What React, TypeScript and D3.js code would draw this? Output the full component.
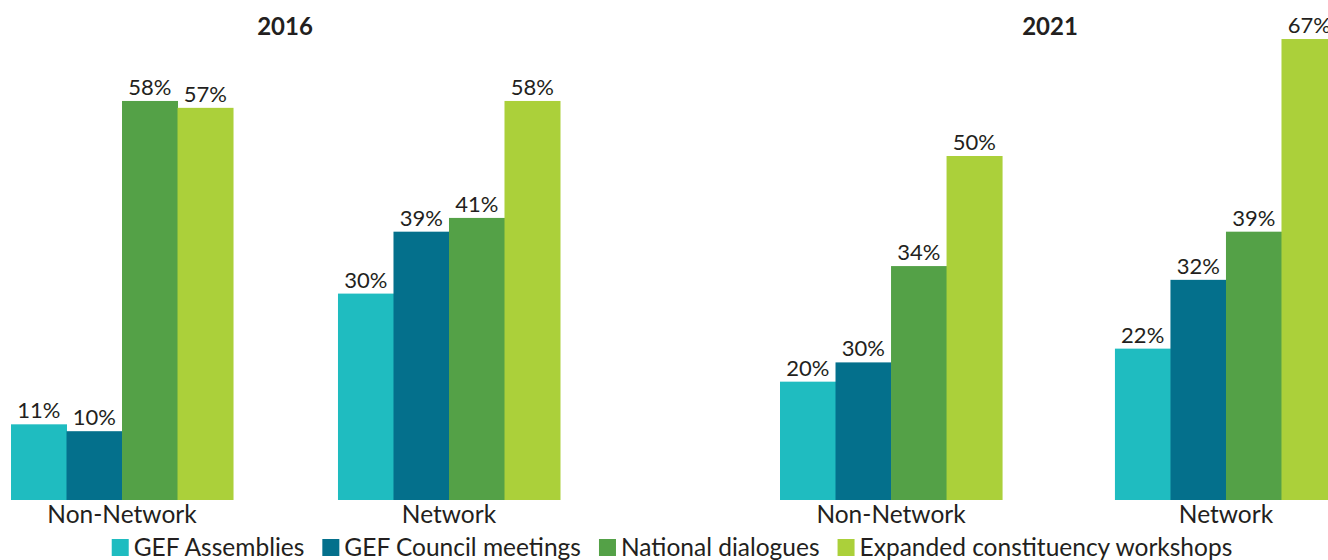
import React, { useEffect, useRef } from "react";
import * as d3 from "d3";

const years = ["2016", "2021"];
const categories = ["Non-Network", "Network"];
const series = [
  "GEF Assemblies",
  "GEF Council meetings",
  "National dialogues",
  "Expanded constituency workshops",
];
const colors = ["#1fbcc0", "#04708c", "#54a147", "#abd03a"];
// bar heights as drawn in the reference (percent)
const values2016 = [
  [11, 10, 58, 57],
  [30, 39, 41, 58],
];
const values2021 = [
  [17.2, 20, 34, 50],
  [22, 32, 39, 67],
];
// data labels as printed in the reference
const labels2016 = [
  ["11%", "10%", "58%", "57%"],
  ["30%", "39%", "41%", "58%"],
];
const labels2021 = [
  ["20%", "30%", "34%", "50%"],
  ["22%", "32%", "39%", "67%"],
];
const valuesByYear = [values2016, values2021];
const labelsByYear = [labels2016, labels2021];

const W = 1328;
const H = 560;
const FONT = "Lato, 'Open Sans', sans-serif";
const TEXT = "#231f20";

export default function App() {
  const ref = useRef<SVGSVGElement | null>(null);

  useEffect(() => {
    const svg = d3.select(ref.current);
    svg.selectAll("*").remove();

    const y = d3.scaleLinear().domain([0, 100]).range([500, 500 - 688]);

    const panels = [
      { range: [11, 560], pad: 0.321, titleX: 285 },
      { range: [780, 1337], pad: 0.337, titleX: 1050 },
    ];

    panels.forEach((p, pi) => {
      const x0 = d3
        .scaleBand<string>()
        .domain(categories)
        .range(p.range as [number, number])
        .paddingInner(p.pad)
        .paddingOuter(0);
      const x1 = d3
        .scaleBand<string>()
        .domain(series)
        .range([0, x0.bandwidth()])
        .padding(0);

      const g = svg.append("g");
      g.append("text")
        .attr("x", p.titleX)
        .attr("y", 35)
        .attr("text-anchor", "middle")
        .attr("font-family", FONT)
        .attr("font-weight", 700)
        .attr("font-size", 24)
        .attr("fill", TEXT)
        .text(years[pi]);

      categories.forEach((cat, ci) => {
        const vals = valuesByYear[pi][ci];
        const labs = labelsByYear[pi][ci];
        const gx = x0(cat)!;
        series.forEach((s, si) => {
          const v = vals[si];
          const bx = gx + x1(s)!;
          g.append("rect")
            .attr("x", bx)
            .attr("y", y(v))
            .attr("width", x1.bandwidth() + 0.5)
            .attr("height", y(0) - y(v))
            .attr("fill", colors[si]);
          g.append("text")
            .attr("x", bx + x1.bandwidth() / 2)
            .attr("y", y(v) - 6)
            .attr("text-anchor", "middle")
            .attr("font-family", FONT)
            .attr("font-size", 22)
            .attr("fill", TEXT)
            .text(labs[si]);
        });
        g.append("text")
          .attr("x", gx + x0.bandwidth() / 2)
          .attr("y", 523)
          .attr("text-anchor", "middle")
          .attr("font-family", FONT)
          .attr("font-size", 24.5)
          .attr("fill", TEXT)
          .text(cat);
      });
    });

    // legend
    const lg = svg.append("g");
    const items = series.map((s, i) => {
      const it = lg.append("g");
      it.append("rect")
        .attr("x", 0)
        .attr("y", 539)
        .attr("width", 17)
        .attr("height", 17)
        .attr("fill", colors[i]);
      const t = it
        .append("text")
        .attr("x", 22)
        .attr("y", 556)
        .attr("font-family", FONT)
        .attr("font-size", 24.5)
        .attr("fill", TEXT)
        .text(s);
      const w = (t.node() as SVGTextElement).getComputedTextLength();
      return { it, w: 22 + w };
    });
    const gap = 18;
    const total = items.reduce((a, b) => a + b.w, 0) + gap * (items.length - 1);
    let cx = 672 - total / 2;
    items.forEach((d) => {
      d.it.attr("transform", `translate(${cx},0)`);
      cx += d.w + gap;
    });
  }, []);

  return (
    <svg
      ref={ref}
      width={W}
      height={H}
      style={{ position: "absolute", left: 0, top: 0, background: "#fff" }}
    />
  );
}
